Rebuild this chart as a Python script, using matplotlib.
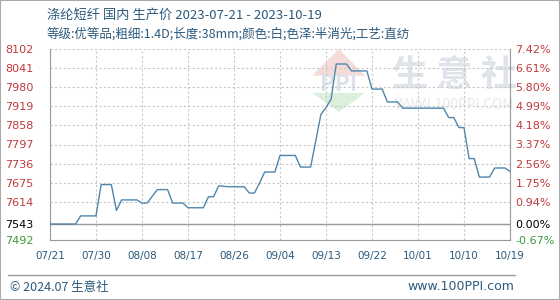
import matplotlib
matplotlib.use("Agg")
import matplotlib.pyplot as plt
import matplotlib.patches as mpatches
import pandas as pd

plt.rcParams['font.family'] = ['Noto Sans CJK SC', 'DejaVu Sans']

# price breakpoints: day offset from 2023-07-21, price (yuan/ton)
days = [0, 5, 6, 9, 10, 12, 13, 14, 17, 18, 19, 21, 23, 24, 26, 27, 30, 31, 32, 33,
        35, 38, 39, 40, 41, 42, 44, 45, 48, 49, 51, 53, 54, 55, 56, 58, 59, 62, 63, 65,
        66, 68, 69, 77, 78, 79, 80, 81, 82, 83, 84, 86, 87, 89, 90]
prices = [7543, 7543, 7569, 7569, 7669, 7669, 7586, 7620, 7620, 7610, 7610, 7653, 7653, 7610, 7610, 7595, 7595, 7630, 7630, 7665,
          7662, 7662, 7642, 7642, 7674, 7709, 7709, 7762, 7762, 7725, 7725, 7893, 7915, 7942, 8054, 8054, 8032, 8032, 7974, 7974,
          7933, 7933, 7913, 7913, 7883, 7883, 7851, 7851, 7752, 7752, 7693, 7693, 7722, 7722, 7711]

start = pd.Timestamp("2023-07-21")
dates = [start + pd.Timedelta(days=d) for d in days]

base = 7543
yticks = [7492, 7543, 7614, 7675, 7736, 7797, 7858, 7919, 7980, 8041, 8102]
pct_labels = ["-0.67%", "0.00%", "0.94%", "1.75%", "2.56%", "3.37%", "4.18%", "4.99%", "5.80%", "6.61%", "7.42%"]
xtick_days = [0, 9, 18, 27, 36, 45, 54, 63, 72, 81, 90]

red = "#c0393b"
green = "#3a9a3a"
blue = "#2c5a7c"

fig = plt.figure(figsize=(5.6, 3.0), dpi=100)
fig.patch.set_facecolor("white")
ax = fig.add_axes([50/560, 60/300, 460/560, 191/300])

ax.plot(dates, prices, color="#4f86ad", lw=1.0, zorder=3)
ax.set_ylim(7492, 8102)
ax.set_xlim(start, start + pd.Timedelta(days=90))

xt = [start + pd.Timedelta(days=d) for d in xtick_days]
ax.set_xticks(xt)
ax.set_xticklabels([t.strftime("%m/%d") for t in xt], color=blue, fontsize=7.5,
                   family=['DejaVu Sans'])
ax.set_yticks(yticks)
ax.set_yticklabels([str(v) for v in yticks], fontsize=8, family=['DejaVu Sans'])
for lab, v in zip(ax.get_yticklabels(), yticks):
    lab.set_color("black" if v == base else (green if v < base else red))
    lab.set_horizontalalignment("left")
ax.tick_params(axis="y", length=0, pad=32)
ax.tick_params(axis="x", length=0, pad=8)

ax.grid(True, color="#c8c8c8", linestyle=(0, (2, 2)), lw=0.8)
ax.axhline(base, color="#999999", lw=1.0, zorder=2)
for side in ["left", "bottom", "right"]:
    ax.spines[side].set_color("#999999")
ax.spines["top"].set_visible(False)

ax2 = ax.twinx()
ax2.set_ylim(ax.get_ylim())
ax2.set_yticks(yticks)
ax2.set_yticklabels(pct_labels, fontsize=8, family=['DejaVu Sans'])
for lab, v in zip(ax2.get_yticklabels(), yticks):
    lab.set_color("black" if v == base else (green if v < base else red))
ax2.tick_params(axis="y", length=0, pad=4)
for s in ax2.spines.values():
    s.set_visible(False)

# watermark
ax.text(0.88, 0.86, "生 意 社", transform=ax.transAxes, fontsize=26, color="#dfe3ea",
        ha="center", va="center", zorder=1, fontweight="bold")
ax.text(0.88, 0.705, "WWW.100PPI.COM", transform=ax.transAxes, fontsize=10, color="#e6e9ee",
        ha="center", va="center", zorder=1)
ax.add_patch(mpatches.Polygon([[0.57, 0.86], [0.628, 1.0], [0.685, 0.86]], closed=True,
                              transform=ax.transAxes, color="#f6dcd8", zorder=1, lw=0))
ax.add_patch(mpatches.Polygon([[0.57, 0.77], [0.628, 0.67], [0.685, 0.77]], closed=True,
                              transform=ax.transAxes, color="#dcefdc", zorder=1, lw=0))
ax.text(0.628, 0.815, "PPI", transform=ax.transAxes, fontsize=16, color="#dde2ea",
        ha="center", va="center", zorder=1, fontweight="bold")

# titles
fig.text(47/560, 1 - 15/300, "涤纶短纤 国内 生产价 2023-07-21 - 2023-10-19", fontsize=9.5,
         color=blue, ha="left", va="center")
fig.text(47/560, 1 - 34/300, "等级:优等品;粗细:1.4D;长度:38mm;颜色:白;色泽:半消光;工艺:直纺",
         fontsize=9, color=blue, ha="left", va="center")

# footer
fig.add_artist(plt.Line2D([8/560, 515/560], [1 - 275/300, 1 - 275/300], color="#999999", lw=1))
fig.text(10/560, 1 - 287/300, "© 2024.07 生意社", fontsize=9, color=blue, ha="left", va="center")
fig.text(514/560, 1 - 287/300, "www.100PPI.com", fontsize=9, color=blue, ha="right", va="center",
         family=['DejaVu Sans'])

# outer frame
fig.add_artist(mpatches.Rectangle((0, 0), 1, 1, transform=fig.transFigure, fill=False,
                                  edgecolor="#aaaaaa", lw=1.5))

fig.savefig("out.png", dpi=100)
